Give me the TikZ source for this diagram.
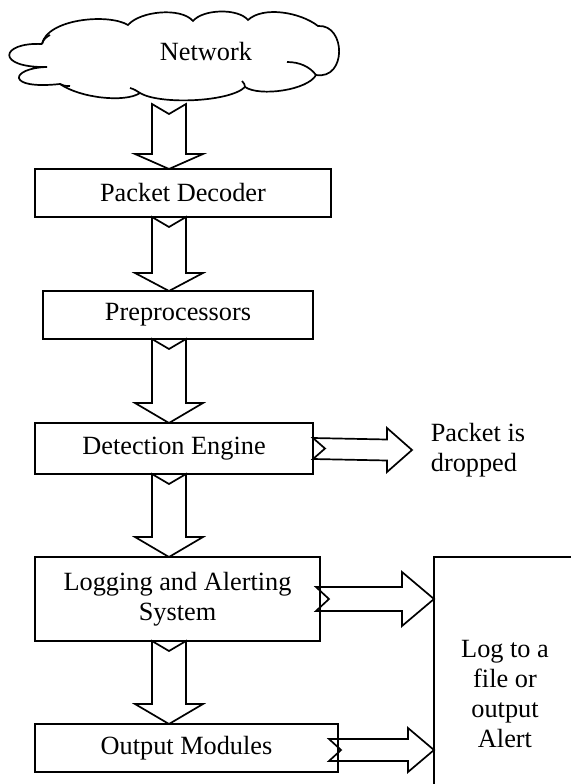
\documentclass[tikz,border=0pt]{standalone}
\usepackage{fontspec}
\setmainfont{Liberation Serif}
\usetikzlibrary{calc}
\newcommand\mytext{\fontsize{26.3pt}{30pt}\selectfont}
% vertical block arrow from node #1 (south) to node #2 (north), head length #3
\newcommand\vconn[3]{%
  \draw[blockarrow] ($(#1 -| axis)+(-17,0)$) -- ($(#1 -| axis)+(0,10)$) -- ($(#1 -| axis)+(17,0)$)
    -- ($(#2 -| axis)+(17,-#3)$) -- ($(#2 -| axis)+(34,-#3)$) -- (#2 -| axis)
    -- ($(#2 -| axis)+(-34,-#3)$) -- ($(#2 -| axis)+(-17,-#3)$) -- cycle;}
% horizontal block arrow: start #1, tip #2, shaft half #3, head half #4, head length #5, notch #6
\newcommand\hconn[6]{%
  \draw[blockarrow] ($(#1)+(0,-#3)$) -- ($(#1)+(#6,0)$) -- ($(#1)+(0,#3)$)
    -- ($(#2)+(-#5,#3)$) -- ($(#2)+(-#5,#4)$) -- (#2)
    -- ($(#2)+(-#5,-#4)$) -- ($(#2)+(-#5,-#3)$) -- cycle;}
\begin{document}
\begin{tikzpicture}[x=1pt,y=-1pt,line width=1.7pt,
  box/.style={draw, rectangle, inner sep=0pt, outer sep=0pt, align=center, font=\mytext},
  blockarrow/.style={draw, line join=miter},
  lbl/.style={inner sep=0pt, align=center, font=\mytext}]
\useasboundingbox (0,0) rectangle (570,784);
\coordinate (axis) at (169,0);
% cloud
\draw (42,44) .. controls (47,19) and (108,13) .. (128,25)
 .. controls (140,11) and (181,7) .. (193,21)
 .. controls (203,9) and (238,8) .. (248,20)
 .. controls (263,6) and (300,12) .. (318,26)
 .. controls (346,24) and (347,80) .. (316,75)
 .. controls (308,90) and (260,97) .. (245,87)
 .. controls (230,102) and (160,105) .. (140,93)
 .. controls (125,103) and (80,98) .. (60,84)
 .. controls (5,90) and (10,68) .. (47,67)
 .. controls (-5,68) and (0,42) .. (42,44);
\draw (287,62) .. controls (300,62) and (310,67) .. (316,75);
\draw (42,44) .. controls (43,40) and (46,37) .. (50,35);
\draw (245,87) .. controls (245,85) and (244,83) .. (242,81);
\draw (140,93) .. controls (137,91) and (134,89) .. (130,88);
\draw (60,84) .. controls (63,86) and (66,86) .. (70,86);
\node[lbl] (net) at (206,52) {Network};
\coordinate (cloudbot) at (169,104);
% boxes
\node[box, minimum width=296pt, minimum height=48pt] (pd) at (183,193) {Packet Decoder};
\node[box, minimum width=270pt, minimum height=48pt] (pre) at (178,315) {Preprocessors};
\node[box, minimum width=278pt, minimum height=51pt] (det) at (174,448.5) {Detection Engine};
\node[box, minimum width=285pt, minimum height=84pt] (log) at (177.5,599) {Logging and Alerting\\System};
\node[box, minimum width=303pt, minimum height=48pt] (out) at (186.5,748) {Output Modules};
% right box (partly outside)
\coordinate (rbtop) at (434,557);
\draw (434,790) -- (rbtop) -- (575,557);
\node[lbl] (rbtext) at (505,694) {Log to a\\file or\\output\\Alert};
\node[lbl, anchor=west, align=left] (drop) at (430,450) {Packet is\\dropped};
\coordinate (droptip) at (412,450);
% vertical arrows
\vconn{cloudbot}{pd.north}{15}
\vconn{pd.south}{pre.north}{18}
\vconn{pre.south}{det.north}{20}
\vconn{det.south}{log.north}{20}
\vconn{log.south}{out.north}{20}
% horizontal arrows
\hconn{det.east}{droptip}{10.5}{22}{25}{12}
\hconn{$(log.east)+(-4,0)$}{rbtop |- log.east}{12}{27}{32}{13}
\hconn{$(out.east)+(-9,2)$}{$(rbtop |- out.east)+(0,2)$}{11}{22}{26}{12}
\end{tikzpicture}
\end{document}
